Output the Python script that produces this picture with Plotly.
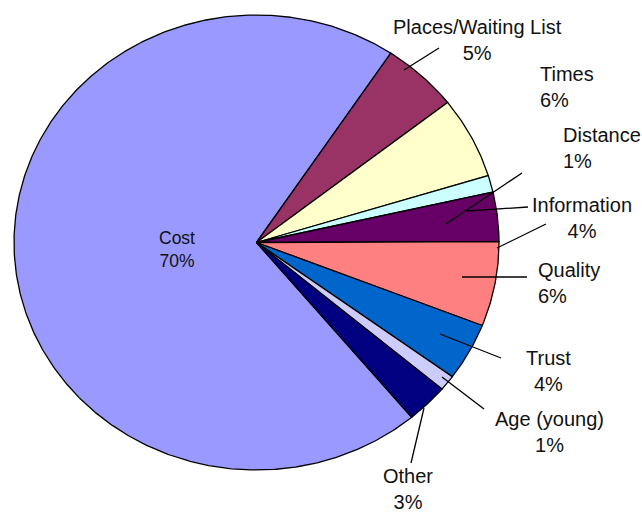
import numpy as np
import plotly.graph_objects as go

# survey reasons (percent of responses), clockwise starting at Cost
categories = ["Cost", "Places/Waiting List", "Times", "Distance", "Information",
              "Quality", "Trust", "Age (young)", "Other"]
values = [70.4, 5.1, 5.8, 1.2, 3.5, 6.0, 4.1, 1.1, 2.8]
colors = ["#9999FF", "#993366", "#FFFFCC", "#CCFFFF", "#660066",
          "#FF8080", "#0066CC", "#CCCCFF", "#000080"]

# pie geometry in pixel space (slightly squashed, like the original)
CX, CY, RX, RY = 256.5, 242.5, 242.5, 227.5
START = 140.2  # degrees clockwise from 12 o'clock where the first slice begins

# label placement: (x, y, xanchor, font size, leader line [(x0,y0,x1,y1), ...])
label_layout = {
    "Cost": (177, 249, "center", 17.5, []),
    "Places/Waiting List": (477, 40, "center", 20, [(404, 70, 439, 48)]),
    "Times": (539, 87, "left", 20, []),
    "Distance": (562, 148, "left", 20, [(446, 224, 522, 173)]),
    "Information": (582, 218, "center", 20, [(467, 211, 528, 207), (497, 248, 546, 224)]),
    "Quality": (537, 283, "left", 20, [(462, 277, 527, 277)]),
    "Trust": (548, 371, "center", 20, [(440, 334, 501, 358)]),
    "Age (young)": (549, 432, "center", 20, [(442, 377, 484, 409)]),
    "Other": (408, 489, "center", 20, [(424, 408, 411, 463)]),
}


def ellipse_pt(deg):
    t = np.radians(deg)
    return CX + RX * np.sin(t), CY - RY * np.cos(t)


total = sum(values)
fig = go.Figure()
angle = START
for name, v, c in zip(categories, values, colors):
    span = v / total * 360.0
    arc = np.linspace(angle, angle + span, max(int(span * 2), 4))
    xs, ys = ellipse_pt(arc)
    fig.add_trace(go.Scatter(
        x=np.concatenate([[CX], xs, [CX]]),
        y=np.concatenate([[CY], ys, [CY]]),
        mode="lines", fill="toself", fillcolor=c,
        line=dict(color="black", width=1.3),
        name=name, hoverinfo="text",
        text="%s: %d%%" % (name, int(v / total * 100 + 0.5)),
        showlegend=False,
    ))
    angle += span

annotations = []
shapes = []
for name, v in zip(categories, values):
    x, y, anchor, size, lines = label_layout[name]
    pct = int(v / total * 100 + 0.5)
    annotations.append(dict(
        x=x, y=y, xref="x", yref="y", xanchor=anchor, yanchor="middle",
        align=anchor, borderpad=0,
        text="%s<br>%d%%" % (name, pct), showarrow=False,
        font=dict(family="Liberation Sans, Arial, sans-serif", size=size, color="#111111"),
    ))
    for x0, y0, x1, y1 in lines:
        shapes.append(dict(type="line", xref="x", yref="y", x0=x0, y0=y0, x1=x1, y1=y1,
                           line=dict(color="black", width=1.3)))

fig.update_layout(
    width=642, height=513,
    margin=dict(l=0, r=0, t=0, b=0),
    paper_bgcolor="white", plot_bgcolor="white",
    xaxis=dict(range=[0, 642], visible=False, fixedrange=True),
    yaxis=dict(range=[513, 0], visible=False, fixedrange=True),
    annotations=annotations, shapes=shapes,
    showlegend=False,
)

# drop the browser's default body margin so the figure sits at the page corner
fig.write_html("out.html", config={"displayModeBar": False},
               post_script="document.body.style.margin='0';document.body.style.overflow='hidden';")
